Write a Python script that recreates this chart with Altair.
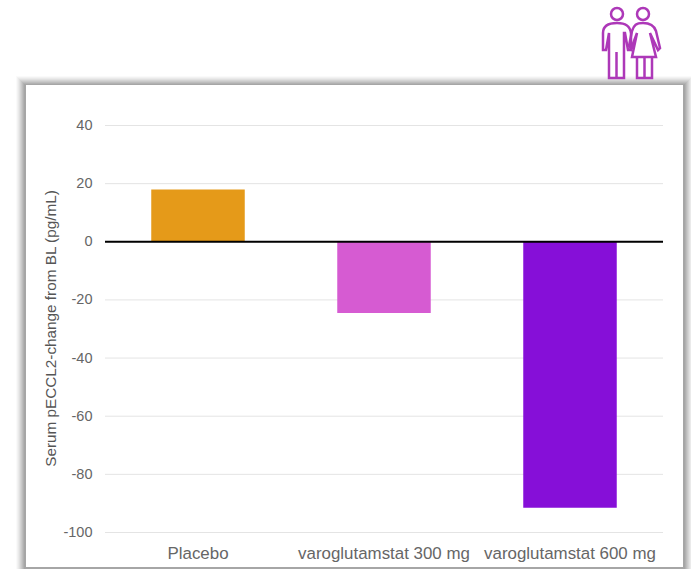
import altair as alt
import pandas as pd

# Serum pECCL2 change from baseline by treatment arm
arms = ["Placebo", "varoglutamstat 300 mg", "varoglutamstat 600 mg"]
changes = [18, -24.5, -91.5]
arm_colors = ["#e59a19", "#d65bd2", "#860fd8"]
y_ticks = [40, 20, 0, -20, -40, -60, -80, -100]

FONT = "Liberation Sans"
PLOT_W, PLOT_H = 558, 407
LEFT, TOP = 105, 125.5

# Outlines of the two figures, centred on the icon
MAN = ("M-.21 .34 L-.21 -.11 L-.24 .06 L-.27 .06 L-.27 -.11 C-.27 -.18 -.22 -.21 -.13 -.21 "
       "C-.04 -.21 0 -.18 .01 -.11 L.01 .06 L-.02 .06 L-.05 -.11 L-.06 -.11 L-.06 .34 Z "
       "M-.135 .08 L-.135 .34")
WOMAN = ("M.07 .13 L.07 .34 L.22 .34 L.22 .13 M.145 .13 L.145 .34 "
         "M.02 .13 L.26 .13 L.20 -.11 L.28 .06 L.30 .04 L.26 -.13 C.24 -.19 .20 -.21 .13 -.21 "
         "C.06 -.21 .04 -.19 .02 -.13 L-.01 .02 L.01 .05 L.07 -.11 Z")

frame = pd.DataFrame({"arm": arms, "change": changes})
grid = pd.DataFrame({"tick": y_ticks})
zero = pd.DataFrame({"tick": [0]})


def panel_rect(x0, y0, x1, y1, fill, opacity=1.0):
    """Rectangle given in page pixels, used for the card and its shadow."""
    return alt.Chart(frame.head(1)).mark_rect(fill=fill, opacity=opacity, clip=False).encode(
        x=alt.value(x0 - LEFT), x2=alt.value(x1 - LEFT),
        y=alt.value(y0 - TOP), y2=alt.value(y1 - TOP),
    )


y_scale = alt.Scale(domain=[-100, 40], nice=False, zero=False)
y_axis = alt.Axis(
    values=y_ticks, title="Serum pECCL2-change from BL (pg/mL)", domain=False, ticks=False,
    grid=False, labelFont=FONT, labelFontSize=14.5, labelColor="#666666", labelPadding=13,
    labelExpr="toString(datum.value)",
    titleFont=FONT, titleFontSize=15.3, titleFontWeight="normal", titleColor="#555555",
    titleX=-47, titleY=202.5, zindex=1,
)

# Soft drop shadow: stacked translucent rectangles growing outward from the card,
# fading toward the outer edge and lighter along the top
shadow = [
    panel_rect(26 - g, 85 - g + 1, 683 + g, 569, "#000000", o)
    for g, o in ((10, 0.02), (9, 0.03), (8, 0.03), (7, 0.04), (6, 0.05), (5, 0.05), (4, 0.06), (3, 0.06), (2, 0.06))
]
card = panel_rect(26, 85, 683, 567, "#ffffff")

grid_lines = alt.Chart(grid).mark_rule(color="#e4e4e4", strokeWidth=1).encode(
    y=alt.Y("tick:Q", scale=y_scale, axis=y_axis)
)

bars = alt.Chart(frame).mark_bar(size=93.5, stroke=None).encode(
    x=alt.X(
        "arm:N", sort=arms, scale=alt.Scale(paddingInner=0, paddingOuter=0),
        axis=alt.Axis(
            title=None, orient="bottom", labelAngle=0, domain=False, ticks=False, grid=False,
            labelFont=FONT, labelFontSize=16.9, labelColor="#666666", labelPadding=12.5,
            labelOverlap=False, labelLimit=200, zindex=1,
        ),
    ),
    y=alt.Y("change:Q", scale=y_scale, axis=y_axis),
    y2=alt.datum(0),
    color=alt.Color("arm:N", sort=arms, scale=alt.Scale(domain=arms, range=arm_colors), legend=None),
)

zero_line = alt.Chart(zero).mark_rule(color="#000000", strokeWidth=2).encode(
    y=alt.Y("tick:Q", scale=y_scale, axis=y_axis)
)


def icon_part(shape, size, x, y, width=2.5):
    return alt.Chart(frame.head(1)).mark_point(
        shape=shape, filled=False, stroke="#ad38b8", strokeWidth=width, size=size, opacity=1, clip=False
    ).encode(x=alt.value(x - LEFT), y=alt.value(y - TOP))


icon = [
    icon_part(MAN, 40000, 630, 44),
    icon_part(WOMAN, 40000, 630, 44),
    icon_part("circle", 144, 617, 14),
    icon_part("circle", 144, 643, 14),
]

chart = alt.layer(*shadow, card, grid_lines, bars, zero_line, *icon).resolve_scale(
    color="independent"
).properties(
    width=PLOT_W,
    height=PLOT_H,
    padding={"left": LEFT, "top": TOP, "right": 28, "bottom": 36.5},
    autosize=alt.AutoSizeParams(type="none"),
    background="#ffffff",
).configure_view(stroke=None)

chart.save("out.html", embed_options={"renderer": "svg", "actions": False})
